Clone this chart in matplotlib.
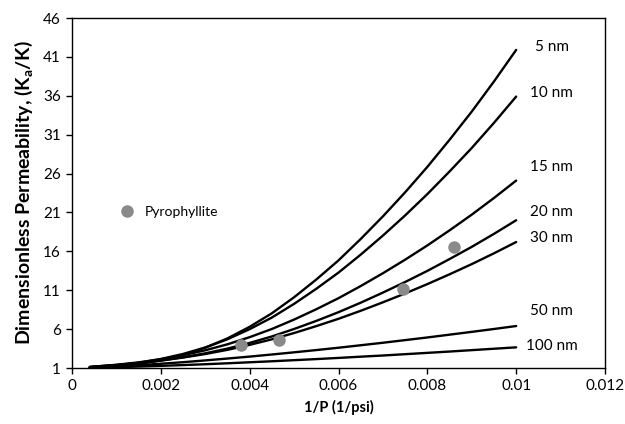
import matplotlib
matplotlib.use('Agg')
import matplotlib.pyplot as plt

plt.rcParams['font.family'] = ['Lato', 'DejaVu Sans']
plt.rcParams['mathtext.fontset'] = 'custom'
plt.rcParams['mathtext.rm'] = 'Lato'
plt.rcParams['mathtext.bf'] = 'Lato:bold'

# 1/P values where the curves were read
inv_p = [0.0004, 0.001, 0.0015, 0.002, 0.0025, 0.003, 0.0035, 0.004, 0.0045, 0.005,
         0.0055, 0.006, 0.0065, 0.007, 0.0075, 0.008, 0.0085, 0.009, 0.0095, 0.01]

# dimensionless permeability per pore size
k_5nm = [1.02, 1.20, 1.51, 2.00, 2.69, 3.61, 4.81, 6.30, 8.04, 10.10,
         12.38, 14.84, 17.59, 20.50, 23.59, 26.86, 30.34, 33.97, 37.84, 41.9]
k_10nm = [1.09, 1.34, 1.67, 2.16, 2.81, 3.64, 4.70, 6.00, 7.49, 9.25,
          11.19, 13.27, 15.58, 18.03, 20.62, 23.36, 26.27, 29.29, 32.52, 35.9]
k_15nm = [1.14, 1.42, 1.73, 2.14, 2.65, 3.28, 4.05, 4.97, 6.02, 7.23,
          8.56, 9.98, 11.54, 13.19, 14.93, 16.76, 18.70, 20.72, 22.86, 25.1]
k_20nm = [1.12, 1.36, 1.63, 1.96, 2.38, 2.89, 3.50, 4.23, 5.06, 6.02,
          7.06, 8.18, 9.40, 10.70, 12.06, 13.49, 15.01, 16.58, 18.25, 20.0]
k_30nm = [1.14, 1.39, 1.65, 1.96, 2.35, 2.80, 3.34, 3.98, 4.69, 5.50,
          6.39, 7.33, 8.36, 9.45, 10.59, 11.79, 13.05, 14.36, 15.75, 17.2]
k_50nm = [1.06, 1.21, 1.37, 1.55, 1.75, 1.98, 2.22, 2.47, 2.74, 3.02,
          3.31, 3.61, 3.93, 4.25, 4.59, 4.93, 5.29, 5.65, 6.02, 6.4]
k_100nm = [1.03, 1.11, 1.19, 1.28, 1.38, 1.49, 1.61, 1.74, 1.87, 2.01,
           2.15, 2.30, 2.46, 2.61, 2.78, 2.95, 3.12, 3.30, 3.48, 3.66]

curves = [k_5nm, k_10nm, k_15nm, k_20nm, k_30nm, k_50nm, k_100nm]
curve_labels = ['5 nm', '10 nm', '15 nm', '20 nm', '30 nm', '50 nm', '100 nm']
label_y = [42.3, 36.3, 26.8, 21.05, 17.7, 8.3, 3.8]

# measured points
pyro_x = [0.0038, 0.00465, 0.00745, 0.0086]
pyro_y = [3.96, 4.6, 11.1, 16.5]

fig = plt.figure(figsize=(6.25, 4.24), dpi=100, facecolor='white')
ax = fig.add_axes([0.1152, 0.132, 0.8528, 0.8255])

for k in curves:
    ax.plot(inv_p, k, color='black', lw=1.7, solid_capstyle='round', solid_joinstyle='round')

ax.plot(pyro_x, pyro_y, 'o', color='#8a8a8a', markersize=8, label='Pyrophyllite', ls='none')

for lab, yy in zip(curve_labels, label_y):
    ax.text(0.0108, yy, lab, ha='center', va='center', fontsize=11)

ax.set_xlim(0, 0.012)
ax.set_ylim(1, 46)
ax.set_xticks([0, 0.002, 0.004, 0.006, 0.008, 0.01, 0.012])
ax.set_xticklabels(['0', '0.002', '0.004', '0.006', '0.008', '0.01', '0.012'])
ax.set_yticks(range(1, 47, 5))
ax.tick_params(direction='out', length=4, width=1, labelsize=11, pad=4)

ax.set_xlabel('1/P (1/psi)', fontsize=10.5, fontweight='bold', labelpad=5)
ax.set_ylabel(r'Dimensionless Permeability, (K$_\mathbf{a}$/K)', fontsize=14, fontweight='bold', labelpad=6)

for s in ax.spines.values():
    s.set_linewidth(1.0)

ax.legend(loc='center left', bbox_to_anchor=(0.053, 0.446), frameon=False, fontsize=10,
          handletextpad=0.3, markerscale=1.0)

fig.savefig('out.png', dpi=100, facecolor='white')
